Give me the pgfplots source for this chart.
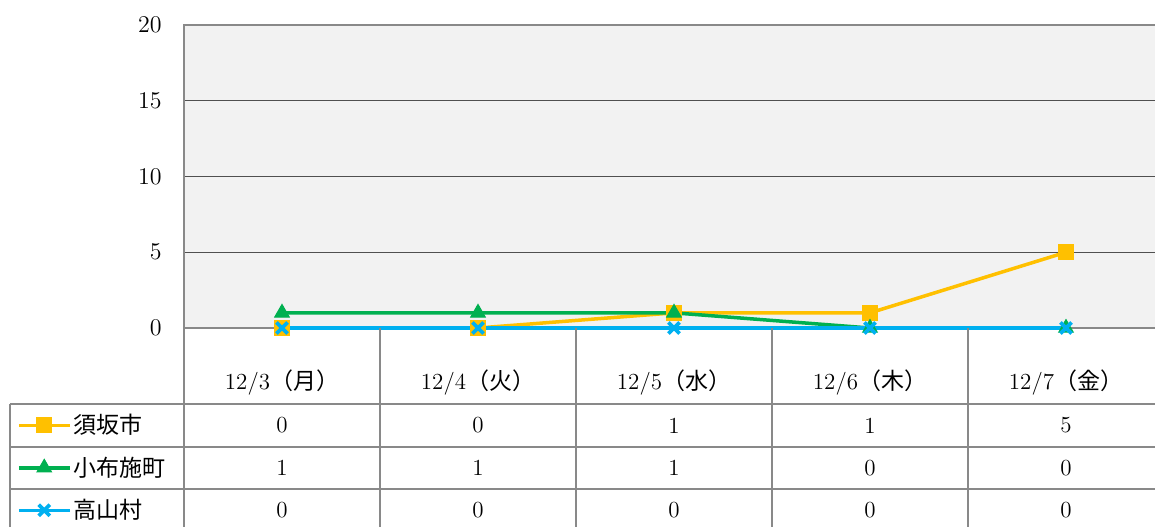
\documentclass[border=0pt]{standalone}
\usepackage{fontspec}
\usepackage{pgfplots}
\pgfplotsset{compat=1.18}
\newfontfamily\jp{Noto Sans CJK JP}
\definecolor{cyel}{HTML}{FFC000}
\definecolor{cgrn}{HTML}{00B050}
\definecolor{cblu}{HTML}{00B0F0}
\definecolor{bordergray}{HTML}{898989}
\definecolor{gridgray}{HTML}{505050}
\definecolor{bgray}{HTML}{F2F2F2}
\begin{document}
\fontsize{11.5pt}{13pt}\selectfont
\begin{tikzpicture}[x=0.5pt,y=0.5pt]
\useasboundingbox (0,0) rectangle (1155,526);
\begin{axis}[
  at={(92pt,99pt)}, anchor=south west,
  scale only axis, width=490pt, height=151.5pt,
  xmin=-0.5, xmax=4.5, ymin=0, ymax=20,
  ytick={0,5,10,15,20}, xtick=\empty,
  ymajorgrids, grid style={draw=gridgray, line width=0.6pt},
  axis background/.style={fill=bgray},
  axis line style={draw=bordergray, line width=1pt},
  major tick length=0pt,
  yticklabel style={inner sep=0pt, xshift=-11pt},
  clip=false,
  legend style={at={(axis description cs:-0.1704,-0.2508)}, anchor=north west,
    draw=none, fill=none, inner sep=0pt, outer sep=0pt, row sep=0pt, column sep=1pt,
    nodes={inner sep=0pt, text height=14.8pt, text depth=6.45pt, font=\jp}},
  legend cell align=left,
  legend image code/.code={\draw[mark repeat=2,mark phase=2,#1] plot coordinates {(0pt,0pt) (12.75pt,0pt) (25.5pt,0pt)};},
]
\addplot[cyel, line width=1.75pt, mark=square*, mark size=3.7pt, mark options={solid, line width=0.5pt}]
  coordinates {(0,0) (1,0) (2,1) (3,1) (4,5)};
\addlegendentry{須坂市}
\addplot[cgrn, line width=1.75pt, mark=triangle*, mark size=4.2pt, mark options={solid, line width=0.5pt}]
  coordinates {(0,1) (1,1) (2,1) (3,0) (4,0)};
\addlegendentry{小布施町}
\addplot[cblu, line width=1.75pt, mark=x, mark size=3.9pt, mark options={solid, line width=1.9pt}]
  coordinates {(0,0) (1,0) (2,0) (3,0) (4,0)};
\addlegendentry{高山村}
% header row
\node at (axis cs:0,-3.63) {12/3{\jp（月）}};
\node at (axis cs:1,-3.63) {12/4{\jp（火）}};
\node at (axis cs:2,-3.63) {12/5{\jp（水）}};
\node at (axis cs:3,-3.63) {12/6{\jp（木）}};
\node at (axis cs:4,-3.63) {12/7{\jp（金）}};
% row 1
\node at (axis cs:0,-6.44) {0};
\node at (axis cs:1,-6.44) {0};
\node at (axis cs:2,-6.44) {1};
\node at (axis cs:3,-6.44) {1};
\node at (axis cs:4,-6.44) {5};
% row 2
\node at (axis cs:0,-9.24) {1};
\node at (axis cs:1,-9.24) {1};
\node at (axis cs:2,-9.24) {1};
\node at (axis cs:3,-9.24) {0};
\node at (axis cs:4,-9.24) {0};
% row 3
\node at (axis cs:0,-12.05) {0};
\node at (axis cs:1,-12.05) {0};
\node at (axis cs:2,-12.05) {0};
\node at (axis cs:3,-12.05) {0};
\node at (axis cs:4,-12.05) {0};
\end{axis}
% table grid
\begin{scope}[draw=bordergray, line width=1pt]
\foreach \x in {184,380,576,772,968} \draw (\x,198) -- (\x,-5);
\draw (10,122) -- (10,-5);
\foreach \y in {122,79.5,37} \draw (10,\y) -- (1170,\y);
\end{scope}
\end{tikzpicture}
\end{document}
